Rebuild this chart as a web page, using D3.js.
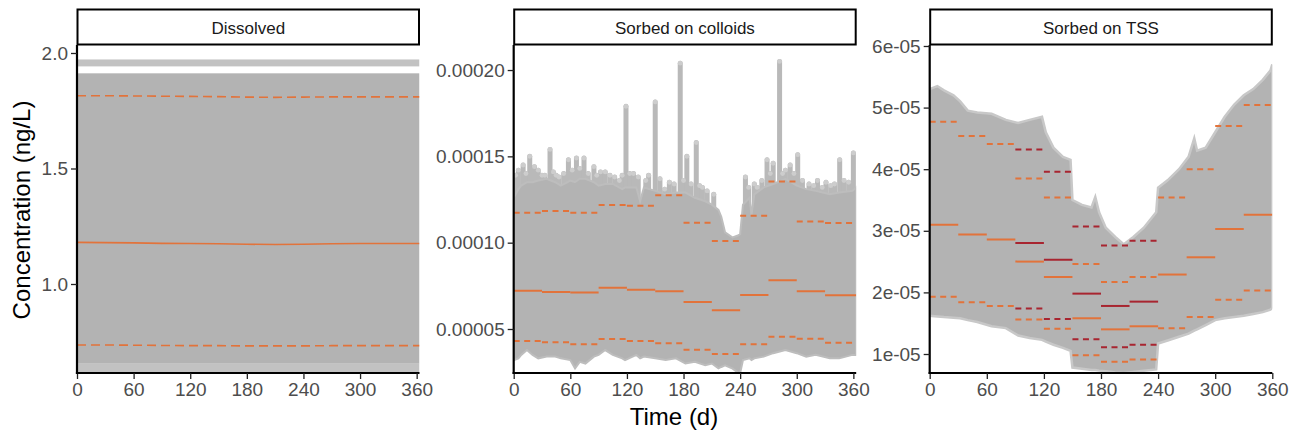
<!DOCTYPE html>
<html>
<head>
<meta charset="utf-8">
<script src="https://cdn.jsdelivr.net/npm/d3@7"></script>
<style>
  body { margin: 0; background: #fff; }
  svg { display: block; font-family: "Liberation Sans", Arial, sans-serif; }
</style>
</head>
<body>
<svg id="chart" width="1298" height="435"></svg>
<script>
// ---------------- data ----------------
const panelTitles = ["Dissolved", "Sorbed on colloids", "Sorbed on TSS"];
const xTicks = [0, 60, 120, 180, 240, 300, 360];
const monthStarts = [0, 30, 60, 90, 120, 150, 180, 210, 240, 270, 300, 330];
const monthEnds = [30, 60, 90, 120, 150, 180, 210, 240, 270, 300, 330, 363];

// Dissolved
const disTicks = [1.0, 1.5, 2.0];
const disDays = [0, 30, 60, 90, 120, 150, 180, 210, 240, 270, 300, 330, 363];
const disMedian = [1.180, 1.179, 1.178, 1.176, 1.175, 1.174, 1.172, 1.171, 1.172, 1.174, 1.175, 1.175, 1.175];
const disUpper = [1.815, 1.815, 1.814, 1.813, 1.812, 1.811, 1.809, 1.808, 1.809, 1.810, 1.810, 1.810, 1.810];
const disLower = [0.736, 0.736, 0.735, 0.734, 0.733, 0.733, 0.732, 0.732, 0.732, 0.733, 0.733, 0.733, 0.733];
// simulation cloud: [low, high] bands
const disCloud = [[0.655, 1.912]];
const disCloudFaint = [[0.61, 0.655], [1.942, 1.972]];

// Sorbed on colloids (monthly summaries)
const colTicks = [5e-5, 10e-5, 15e-5, 20e-5];
const colMedian = [7.22e-5, 7.14e-5, 7.12e-5, 7.39e-5, 7.28e-5, 7.18e-5, 6.56e-5, 6.08e-5, 6.97e-5, 7.82e-5, 7.18e-5, 6.95e-5];
const colUpper = [11.74e-5, 11.83e-5, 11.74e-5, 12.18e-5, 12.14e-5, 12.74e-5, 11.16e-5, 10.09e-5, 11.56e-5, 13.55e-5, 11.23e-5, 11.14e-5];
const colLower = [4.30e-5, 4.23e-5, 4.11e-5, 4.42e-5, 4.30e-5, 4.17e-5, 3.80e-5, 3.55e-5, 4.11e-5, 4.55e-5, 4.44e-5, 4.21e-5];
// simulation cloud outline
const colCloudDays = [0, 5, 8, 14, 20, 26, 35, 44, 50, 60, 65, 70, 76, 85, 90, 97, 105, 115, 118, 130, 134, 138, 150, 161, 172, 182, 192, 203, 210, 217, 220, 224, 232, 237, 240, 243, 250, 252, 255, 265, 275, 288, 300, 310, 320, 335, 345, 359, 363];
const colCloudTop = [12.6e-5, 13.1e-5, 13.3e-5, 13.5e-5, 13.5e-5, 13.6e-5, 13.7e-5, 13.5e-5, 13.3e-5, 13.6e-5, 13.5e-5, 13.7e-5, 13.7e-5, 13.5e-5, 13.3e-5, 13.4e-5, 13.4e-5, 13.1e-5, 13.2e-5, 13.2e-5, 12.4e-5, 13.2e-5, 13.0e-5, 12.8e-5, 12.9e-5, 12.9e-5, 12.6e-5, 12.4e-5, 12.2e-5, 11.9e-5, 11.5e-5, 10.6e-5, 10.3e-5, 10.4e-5, 10.5e-5, 12.2e-5, 12.6e-5, 11.6e-5, 12.8e-5, 13.2e-5, 13.4e-5, 13.7e-5, 13.3e-5, 13.1e-5, 13.0e-5, 12.8e-5, 12.9e-5, 13.0e-5, 13.2e-5];
const colCloudBottom = [3.2e-5, 3.3e-5, 3.5e-5, 3.78e-5, 3.5e-5, 3.3e-5, 3.4e-5, 3.4e-5, 3.3e-5, 3.2e-5, 2.72e-5, 3.1e-5, 3.0e-5, 3.4e-5, 3.5e-5, 3.78e-5, 3.5e-5, 3.3e-5, 3.2e-5, 3.5e-5, 3.3e-5, 3.4e-5, 3.3e-5, 3.2e-5, 3.3e-5, 3.0e-5, 3.1e-5, 2.9e-5, 3.0e-5, 2.72e-5, 2.8e-5, 2.9e-5, 2.7e-5, 2.5e-5, 2.45e-5, 3.2e-5, 3.3e-5, 3.2e-5, 3.3e-5, 3.4e-5, 3.6e-5, 3.78e-5, 3.6e-5, 3.4e-5, 3.5e-5, 3.3e-5, 3.3e-5, 3.5e-5, 3.5e-5];
// columns of points sticking out above the cloud
const colSpikeDays = [2, 5, 10, 13, 17, 22, 26, 30, 33, 38.5, 42, 45, 48, 53, 58, 62, 66.5, 70, 74.5, 79, 85, 88, 92, 97, 102, 107, 112, 115, 119, 123, 127, 132, 140, 143, 150, 155, 160, 165, 170, 176.5, 180, 183.5, 188, 193.5, 197, 200, 205, 212, 245.6, 249, 255, 258, 263, 268.5, 272, 275, 281.8, 285, 288, 293, 297, 301, 306, 313, 318, 322, 327, 331, 336, 340, 345.5, 350, 355, 360];
const colSpikeTops = [13.9e-5, 14.2e-5, 14.5e-5, 14.0e-5, 15.0e-5, 14.4e-5, 14.2e-5, 13.9e-5, 13.9e-5, 15.4e-5, 14.1e-5, 13.9e-5, 13.8e-5, 14.0e-5, 14.8e-5, 14.2e-5, 14.9e-5, 14.3e-5, 14.9e-5, 14.0e-5, 14.4e-5, 13.9e-5, 14.1e-5, 14.1e-5, 13.9e-5, 13.8e-5, 13.6e-5, 13.9e-5, 17.9e-5, 14.0e-5, 14.0e-5, 13.8e-5, 13.6e-5, 13.9e-5, 18.15e-5, 13.7e-5, 13.1e-5, 13.5e-5, 13.4e-5, 20.4e-5, 13.6e-5, 15.0e-5, 13.4e-5, 15.8e-5, 13.3e-5, 13.2e-5, 13.0e-5, 12.8e-5, 13.8e-5, 13.2e-5, 13.4e-5, 13.2e-5, 13.6e-5, 14.8e-5, 14.0e-5, 14.6e-5, 20.5e-5, 14.0e-5, 14.2e-5, 14.5e-5, 14.0e-5, 15.1e-5, 13.6e-5, 13.4e-5, 13.3e-5, 13.6e-5, 13.2e-5, 13.5e-5, 13.3e-5, 13.4e-5, 14.8e-5, 13.6e-5, 13.5e-5, 15.2e-5];

// Sorbed on TSS (monthly summaries, two scenarios)
const tssTicks = [1e-5, 2e-5, 3e-5, 4e-5, 5e-5, 6e-5];
const tssMedian = [3.10e-5, 2.94e-5, 2.86e-5, 2.50e-5, 2.25e-5, 1.58e-5, 1.40e-5, 1.45e-5, 2.29e-5, 2.57e-5, 3.03e-5, 3.26e-5];
const tssUpper = [4.77e-5, 4.54e-5, 4.41e-5, 3.85e-5, 3.54e-5, 2.46e-5, 2.17e-5, 2.25e-5, 3.54e-5, 4.00e-5, 4.70e-5, 5.04e-5];
const tssLower = [1.93e-5, 1.84e-5, 1.78e-5, 1.56e-5, 1.41e-5, 0.98e-5, 0.875e-5, 0.91e-5, 1.42e-5, 1.60e-5, 1.88e-5, 2.03e-5];
const tssAltMonths = [3, 4, 5, 6, 7];
const tssAltMedian = [2.80e-5, 2.53e-5, 1.98e-5, 1.78e-5, 1.85e-5];
const tssAltUpper = [4.32e-5, 3.96e-5, 3.07e-5, 2.76e-5, 2.84e-5];
const tssAltLower = [1.74e-5, 1.57e-5, 1.24e-5, 1.11e-5, 1.15e-5];
const tssCloudDays = [0, 8, 15, 25, 32, 40, 50, 65, 80, 93, 105, 118, 122, 130, 140, 148, 150, 160, 170, 174, 178, 185, 195, 204, 214, 225, 238, 240, 250, 262, 272, 278, 281, 290, 300, 310, 320, 330, 340, 350, 358, 360];
const tssCloudTop = [5.30e-5, 5.35e-5, 5.28e-5, 5.20e-5, 5.10e-5, 4.95e-5, 4.92e-5, 4.90e-5, 4.80e-5, 4.75e-5, 4.80e-5, 4.85e-5, 4.60e-5, 4.35e-5, 4.20e-5, 4.15e-5, 3.50e-5, 3.42e-5, 3.38e-5, 3.55e-5, 3.30e-5, 3.05e-5, 2.90e-5, 2.78e-5, 2.90e-5, 3.05e-5, 3.30e-5, 3.70e-5, 3.82e-5, 4.00e-5, 4.20e-5, 4.50e-5, 4.30e-5, 4.35e-5, 4.60e-5, 4.85e-5, 5.05e-5, 5.20e-5, 5.30e-5, 5.45e-5, 5.60e-5, 5.70e-5];
const tssCloudBottom = [1.62e-5, 1.61e-5, 1.60e-5, 1.59e-5, 1.58e-5, 1.55e-5, 1.52e-5, 1.45e-5, 1.42e-5, 1.30e-5, 1.26e-5, 1.23e-5, 1.20e-5, 1.15e-5, 1.10e-5, 1.05e-5, 0.78e-5, 0.76e-5, 0.74e-5, 0.74e-5, 0.73e-5, 0.72e-5, 0.70e-5, 0.69e-5, 0.71e-5, 0.73e-5, 0.75e-5, 1.17e-5, 1.22e-5, 1.28e-5, 1.33e-5, 1.38e-5, 1.40e-5, 1.47e-5, 1.55e-5, 1.58e-5, 1.60e-5, 1.62e-5, 1.65e-5, 1.68e-5, 1.72e-5, 1.75e-5];

// ---------------- styling ----------------
const orange = "#e2733b";
const darkred = "#a82530";
const cloudgrey = "#b3b3b3";
const faintgrey = "#c2c2c2";
const TOP = 45, BOTTOM = 373;

const fmtSci = v => v.toExponential(0).replace(/e([+-])(\d)$/, (m, s, d) => "e" + s + "0" + d);

const panels = [
  {title: panelTitles[0], x0: 77, x1: 419.5, xmax: 363, ydom: [0.6147, 2.0346], ticks: disTicks, fmt: d3.format(".1f")},
  {title: panelTitles[1], x0: 513.7, x1: 856.2, xmax: 363, ydom: [2.451e-5, 2.145e-4], ticks: colTicks, fmt: d3.format(".5f")},
  {title: panelTitles[2], x0: 929.7, x1: 1272.3, xmax: 360, ydom: [0.6916e-5, 6.016e-5], ticks: tssTicks, fmt: fmtSci},
];

const svg = d3.select("#chart");

panels.forEach(p => {
  p.x = d3.scaleLinear().domain([0, p.xmax]).range([p.x0, p.x1]);
  p.y = d3.scaleLinear().domain(p.ydom).range([BOTTOM, TOP]);
  p.g = svg.append("g");
  p.clip = "clip" + p.x0;
  svg.append("clipPath").attr("id", p.clip)
    .append("rect").attr("x", p.x0).attr("y", TOP).attr("width", p.x1 - p.x0).attr("height", BOTTOM - TOP);
  p.plot = p.g.append("g").attr("clip-path", `url(#${p.clip})`);
});

// draw monthly step segments
function steps(p, values, months, color, dashed) {
  p.plot.append("g").selectAll("line").data(values).join("line")
    .attr("x1", (d, i) => p.x(monthStarts[months ? months[i] : i]))
    .attr("x2", (d, i) => p.x(Math.min(monthEnds[months ? months[i] : i], p.xmax)))
    .attr("y1", d => p.y(d)).attr("y2", d => p.y(d))
    .attr("stroke", color)
    .attr("stroke-width", 2)
    .attr("stroke-dasharray", dashed ? "6,4.5" : null);
}

// ---- Dissolved ----
{
  const p = panels[0];
  const band = (data, fill) => p.plot.append("g").selectAll("rect").data(data).join("rect")
    .attr("x", p.x0).attr("width", p.x1 - p.x0)
    .attr("y", d => p.y(d[1])).attr("height", d => p.y(d[0]) - p.y(d[1]))
    .attr("fill", fill);
  band(disCloudFaint, faintgrey);
  band(disCloud, cloudgrey);
  const line = vals => d3.line().x((d, i) => p.x(Math.min(disDays[i], p.xmax))).y(d => p.y(d))(vals);
  [[disUpper, true], [disLower, true], [disMedian, false]].forEach(([vals, dashed]) => {
    p.plot.append("path").attr("d", line(vals))
      .attr("fill", "none").attr("stroke", orange).attr("stroke-width", 1.6)
      .attr("stroke-dasharray", dashed ? "9,5" : null);
  });
}

// ---- Sorbed on colloids ----
{
  const p = panels[1];
  p.plot.append("g").selectAll("line").data(colSpikeTops).join("line")
    .attr("x1", (d, i) => p.x(colSpikeDays[i])).attr("x2", (d, i) => p.x(colSpikeDays[i]))
    .attr("y1", p.y(11e-5)).attr("y2", d => p.y(d))
    .attr("stroke", "#b9b9b9").attr("stroke-width", 5).attr("stroke-linecap", "round");
  p.plot.append("g").selectAll("circle").data(colSpikeTops).join("circle")
    .attr("cx", (d, i) => p.x(colSpikeDays[i])).attr("cy", d => p.y(d))
    .attr("r", 2.4).attr("fill", "#cdcdcd");
  const area = d3.area()
    .x((d, i) => p.x(colCloudDays[i]))
    .y0((d, i) => p.y(colCloudBottom[i]))
    .y1(d => p.y(d));
  p.plot.append("path").attr("d", area(colCloudTop))
    .attr("fill", cloudgrey).attr("stroke", "#bdbdbd").attr("stroke-width", 2);
  steps(p, colUpper, null, orange, true);
  steps(p, colLower, null, orange, true);
  steps(p, colMedian, null, orange, false);
}

// ---- Sorbed on TSS ----
{
  const p = panels[2];
  const area = d3.area()
    .x((d, i) => p.x(tssCloudDays[i]))
    .y0((d, i) => p.y(tssCloudBottom[i]))
    .y1(d => p.y(d));
  p.plot.append("path").attr("d", area(tssCloudTop))
    .attr("fill", cloudgrey).attr("stroke", "#c8c8c8").attr("stroke-width", 2.5);
  steps(p, tssAltUpper, tssAltMonths, darkred, true);
  steps(p, tssAltLower, tssAltMonths, darkred, true);
  steps(p, tssAltMedian, tssAltMonths, darkred, false);
  steps(p, tssUpper, null, orange, true);
  steps(p, tssLower, null, orange, true);
  steps(p, tssMedian, null, orange, false);
}

// ---- axes, strips ----
panels.forEach(p => {
  const xa = p.g.append("g").attr("transform", `translate(0,${BOTTOM})`)
    .call(d3.axisBottom(p.x).tickValues(xTicks).tickSize(6).tickPadding(4).tickSizeOuter(0));
  const ya = p.g.append("g").attr("transform", `translate(${p.x0},0)`)
    .call(d3.axisLeft(p.y).tickValues(p.ticks).tickFormat(p.fmt).tickSize(6).tickPadding(3).tickSizeOuter(0));
  [xa, ya].forEach(a => {
    a.select(".domain").attr("stroke", "#000").attr("stroke-width", 2.2);
    a.selectAll(".tick line").attr("stroke", "#222").attr("stroke-width", 1.3);
    a.selectAll(".tick text").attr("fill", "#4d4d4d").attr("font-size", 19)
      .attr("font-family", "Liberation Sans, Arial, sans-serif");
  });
  // extend axis lines to the plot corner
  xa.select(".domain").attr("d", `M${p.x0 - 1.1},0H${p.x1}`);
  ya.select(".domain").attr("d", `M0,${BOTTOM + 1.1}V${TOP}`);

  p.g.append("rect")
    .attr("x", p.x0 + 0.5).attr("y", 9.5)
    .attr("width", p.x1 - p.x0 - 1).attr("height", 35)
    .attr("fill", "#fff").attr("stroke", "#000").attr("stroke-width", 2);
  p.g.append("text")
    .attr("x", (p.x0 + p.x1) / 2).attr("y", 33.5)
    .attr("text-anchor", "middle").attr("font-size", 17).attr("fill", "#1a1a1a")
    .text(p.title);
});

svg.append("text")
  .attr("transform", "translate(30,210) rotate(-90)")
  .attr("text-anchor", "middle").attr("font-size", 24).attr("fill", "#000")
  .text("Concentration (ng/L)");
svg.append("text")
  .attr("x", 674).attr("y", 425)
  .attr("text-anchor", "middle").attr("font-size", 24).attr("fill", "#000")
  .text("Time (d)");
</script>
</body>
</html>
